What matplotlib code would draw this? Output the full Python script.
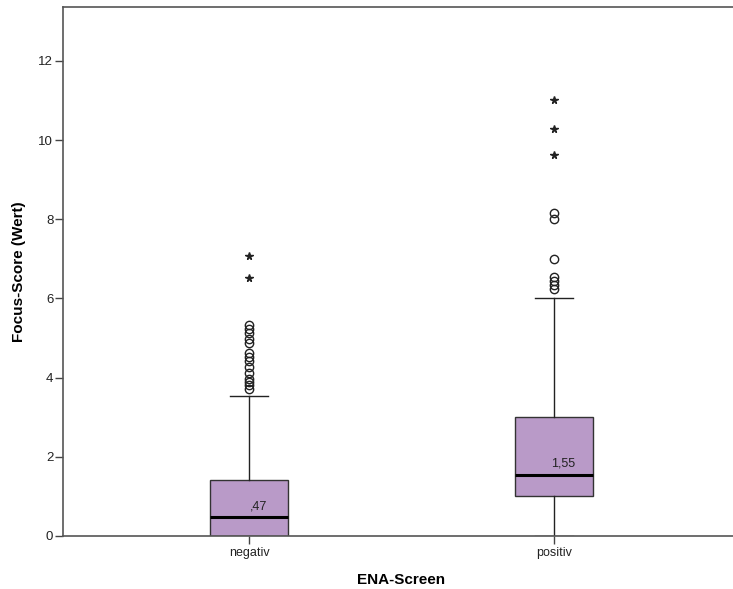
import matplotlib
matplotlib.use("Agg")
import matplotlib.pyplot as plt

plt.rcParams['font.family'] = ['Liberation Sans', 'DejaVu Sans']

categories = ["negativ", "positiv"]
q1 = [0.0, 1.0]
medians = [0.47, 1.55]
q3 = [1.42, 3.0]
whisker_low = [0.0, 0.0]
whisker_high = [3.54, 6.0]
median_labels = [",47", "1,55"]
outliers_circle = [
    [5.32, 5.22, 5.12, 4.97, 4.87, 4.62, 4.52, 4.42, 4.27, 4.12, 3.97, 3.9, 3.82, 3.7],
    [8.15, 8.0, 7.0, 6.55, 6.45, 6.35, 6.25],
]
outliers_star = [
    [7.08, 6.51],
    [11.01, 10.27, 9.62],
]

fig = plt.figure(figsize=(7.33, 5.89), dpi=100)
ax = fig.add_axes([63/733, 1-536/589, (740-63)/733, (536-7)/589])

positions = [1, 2]
stats = []
for i, c in enumerate(categories):
    stats.append(dict(label=c, q1=q1[i], med=medians[i], q3=q3[i],
                      whislo=whisker_low[i], whishi=whisker_high[i], fliers=[]))

box_color = "#b99ac8"
ax.bxp(stats, positions=positions, widths=0.253, capwidths=0.125, patch_artist=True,
       showfliers=False,
       boxprops=dict(facecolor=box_color, edgecolor="#333333", linewidth=1.0),
       medianprops=dict(color="black", linewidth=2.2),
       whiskerprops=dict(color="#222222", linewidth=1.0),
       capprops=dict(color="#222222", linewidth=1.0))

for i, p in enumerate(positions):
    ax.plot([p] * len(outliers_circle[i]), outliers_circle[i], linestyle="none",
            marker="o", markersize=6, markerfacecolor="none", markeredgecolor="#222222",
            markeredgewidth=1.0)
    ax.plot([p] * len(outliers_star[i]), outliers_star[i], linestyle="none",
            marker="*", markersize=5.5, color="#222222")
    ax.text(p + 0.03, medians[i] + 0.12, median_labels[i], ha="center", va="bottom",
            fontsize=9, color="#222222")

ax.set_xlim(0.39, 2.61)
ax.set_ylim(0, 13.36)
ax.set_yticks([0, 2, 4, 6, 8, 10, 12])
ax.set_xticks(positions)
ax.set_xticklabels(categories)
ax.tick_params(axis="y", direction="out", length=6, width=1, color="#444444",
               labelsize=9.5, labelcolor="#222222", pad=1)
ax.tick_params(axis="x", direction="out", length=6, width=1, color="#444444",
               labelsize=9, labelcolor="#222222", pad=2)

for s in ["left", "bottom", "top"]:
    ax.spines[s].set_color("#555555")
    ax.spines[s].set_linewidth(1.2)
ax.spines["right"].set_visible(False)

ax.set_ylabel("Focus-Score (Wert)", fontsize=11, fontweight="bold", labelpad=9)
ax.set_xlabel("ENA-Screen", fontsize=11, fontweight="bold", labelpad=10)

fig.savefig("out.png", dpi=100)
